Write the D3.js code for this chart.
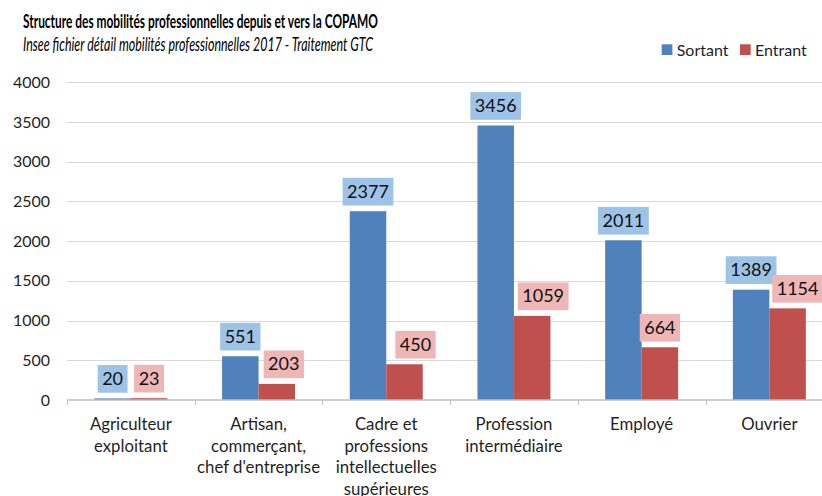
<!DOCTYPE html>
<html>
<head>
<meta charset="utf-8">
<script src="https://cdn.jsdelivr.net/npm/d3@7"></script>
<style>
  body { margin: 0; background: #fff; }
  svg { display: block; font-family: Lato, "Open Sans", sans-serif; }
</style>
</head>
<body>
<div id="chart"></div>
<script>
// data
var categories = [
  ["Agriculteur", "exploitant"],
  ["Artisan,", "commerçant,", "chef d'entreprise"],
  ["Cadre et", "professions", "intellectuelles", "supérieures"],
  ["Profession", "intermédiaire"],
  ["Employé"],
  ["Ouvrier"]
];
var series = ["Sortant", "Entrant"];
var sortant = [20, 551, 2377, 3456, 2011, 1389];
var entrant = [23, 203, 450, 1059, 664, 1154];
var yTicks = [0, 500, 1000, 1500, 2000, 2500, 3000, 3500, 4000];

// the entrant labels were dragged a bit to the right in the original
var entrantNudge = [0, 7, 11, 11, 0, 10];

var colors = { Sortant: "#4f81bd", Entrant: "#c0504d" };
var boxColors = { Sortant: "#9dc3e6", Entrant: "#efb6b6" };

var W = 822, H = 496;
var margin = { left: 67, top: 82.3, bottom: 96 };
var groupW = 127.7;

var svg = d3.select("#chart").append("svg")
  .attr("width", W).attr("height", H);

var keys = categories.map(function(d, i) { return "c" + i; });

var x = d3.scaleBand()
  .domain(keys)
  .range([margin.left, margin.left + groupW * keys.length])
  .padding(0);

var x1 = d3.scaleBand()
  .domain(series)
  .range([0, x.bandwidth()])
  .paddingInner(0)
  .paddingOuter(0.75);

var y = d3.scaleLinear()
  .domain([0, 4000])
  .range([H - margin.bottom, margin.top]);

// gridlines
svg.append("g")
  .selectAll("line")
  .data(yTicks.slice(1))
  .enter().append("line")
  .attr("x1", margin.left).attr("x2", W)
  .attr("y1", function(d) { return Math.round(y(d)) + 0.5; })
  .attr("y2", function(d) { return Math.round(y(d)) + 0.5; })
  .attr("stroke", "#d9d9d9").attr("stroke-width", 1);

// y labels
svg.append("g")
  .selectAll("text")
  .data(yTicks)
  .enter().append("text")
  .attr("x", 50)
  .attr("y", function(d) { return y(d); })
  .attr("dy", "0.35em")
  .attr("text-anchor", "end")
  .attr("font-size", 16)
  .attr("fill", "#1f1f1f")
  .text(function(d) { return d; });

// bars
var rows = categories.map(function(c, i) {
  return { key: keys[i], values: [
    { s: "Sortant", v: sortant[i], i: i },
    { s: "Entrant", v: entrant[i], i: i }
  ]};
});

var groups = svg.append("g")
  .selectAll("g")
  .data(rows)
  .enter().append("g")
  .attr("transform", function(d) { return "translate(" + x(d.key) + ",0)"; });

groups.selectAll("rect")
  .data(function(d) { return d.values; })
  .enter().append("rect")
  .attr("x", function(d) { return x1(d.s); })
  .attr("width", x1.bandwidth())
  .attr("y", function(d) { return y(d.v); })
  .attr("height", function(d) { return y(0) - y(d.v); })
  .attr("fill", function(d) { return colors[d.s]; });

// x axis
var axis = svg.append("g")
  .attr("transform", "translate(0," + y(0) + ")")
  .call(d3.axisBottom(x).tickSize(0).tickFormat(""));
axis.select(".domain").attr("stroke", "#bfbfbf").attr("stroke-width", 1.5)
  .attr("d", "M" + margin.left + ",0H" + W);
axis.selectAll(".tick").remove();

var edges = keys.map(function(k) { return x(k); });
axis.selectAll("line.sep")
  .data(edges)
  .enter().append("line")
  .attr("class", "sep")
  .attr("x1", function(d) { return Math.round(d) + 0.5; })
  .attr("x2", function(d) { return Math.round(d) + 0.5; })
  .attr("y1", 0).attr("y2", 5)
  .attr("stroke", "#bfbfbf");

// category labels
svg.append("g")
  .selectAll("text")
  .data(rows)
  .enter().append("text")
  .attr("x", function(d) { return x(d.key) + x.bandwidth() / 2; })
  .attr("y", 430)
  .attr("text-anchor", "middle")
  .attr("font-size", 16.8)
  .attr("fill", "#1f1f1f")
  .each(function(d, i) {
    var t = d3.select(this);
    categories[i].forEach(function(line, j) {
      t.append("tspan")
        .attr("x", x(d.key) + x.bandwidth() / 2)
        .attr("dy", j === 0 ? 0 : 21.5)
        .text(line);
    });
  });

// data labels with coloured boxes
var labels = groups.selectAll("g.lab")
  .data(function(d) { return d.values; })
  .enter().append("g")
  .attr("class", "lab");

labels.each(function(d) {
  var g = d3.select(this);
  var cx = x1(d.s) + x1.bandwidth() / 2 + (d.s === "Entrant" ? entrantNudge[d.i] : 0);
  var bottom = y(d.v) - 5.7;
  var rect = g.append("rect");
  var txt = g.append("text")
    .attr("x", cx)
    .attr("y", bottom - 14)
    .attr("dy", "0.35em")
    .attr("text-anchor", "middle")
    .attr("font-size", 18)
    .attr("fill", "#111")
    .text(d.v);
  var w = txt.node().getComputedTextLength() + 9;
  rect.attr("x", cx - w / 2)
    .attr("y", bottom - 27.7)
    .attr("width", w)
    .attr("height", 27.7)
    .attr("fill", boxColors[d.s]);
});

// title
svg.append("text")
  .attr("x", 23).attr("y", 28)
  .attr("font-size", 18.5)
  .attr("font-weight", "bold")
  .attr("fill", "#000")
  .attr("textLength", 355)
  .attr("lengthAdjust", "spacingAndGlyphs")
  .text("Structure des mobilités professionnelles depuis et vers la COPAMO");

svg.append("text")
  .attr("x", 23).attr("y", 51)
  .attr("font-size", 18.5)
  .attr("font-style", "italic")
  .attr("fill", "#000")
  .attr("textLength", 350)
  .attr("lengthAdjust", "spacingAndGlyphs")
  .text("Insee fichier détail mobilités professionnelles 2017 - Traitement GTC");

// legend
var legend = svg.append("g");
var legX = [661.7, 740];
series.forEach(function(s, i) {
  legend.append("rect")
    .attr("x", legX[i]).attr("y", 44.3)
    .attr("width", 10.7).attr("height", 10.7)
    .attr("fill", colors[s]);
  legend.append("text")
    .attr("x", legX[i] + 15).attr("y", 50)
    .attr("dy", "0.35em")
    .attr("font-size", 16)
    .attr("fill", "#1f1f1f")
    .text(s);
});
</script>
</body>
</html>
